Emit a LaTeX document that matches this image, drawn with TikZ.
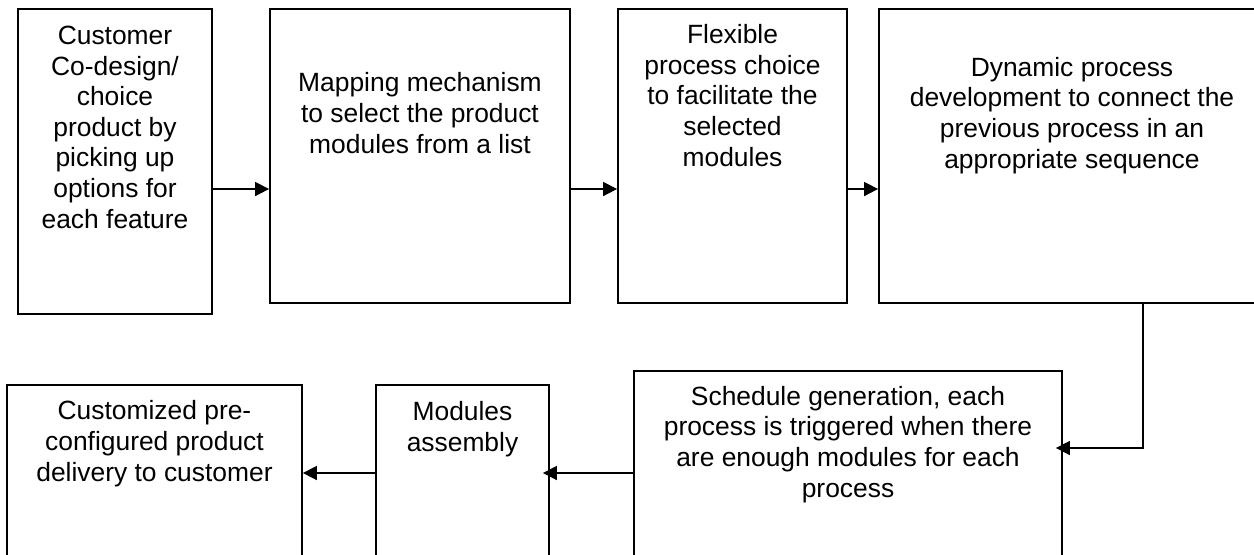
\documentclass[tikz,border=0pt]{standalone}
\usepackage{fontspec}
\setmainfont{Liberation Sans}
\usetikzlibrary{arrows.meta,fit}
\begin{document}
\begin{tikzpicture}[x=0.5pt,y=-0.5pt,
  box/.style={draw, line width=0.9pt, inner sep=0pt},
  txt/.style={align=center, anchor=base, inner sep=0pt, font=\fontsize{13.2}{15.3}\selectfont},
  flow/.style={line width=0.8pt, -{Triangle[length=7pt,width=7pt]}}]
\useasboundingbox (0,0) rectangle (1254,554);
% boxes
\node[box, fit={(18,9) (212,314)}] (b1) {};
\node[box, fit={(270,9) (570,303)}] (b2) {};
\node[box, fit={(618,9) (847,303)}] (b3) {};
\node[box, fit={(879,9) (1265,303)}] (b4) {};
\node[box, fit={(634,371) (1062,580)}] (b7) {};
\node[box, fit={(376,385) (549,580)}] (b6) {};
\node[box, fit={(7,385) (302,580)}] (b5) {};
% texts (anchored at the baseline of their last line)
\node[txt] (t1) at (115,228) {Customer\\Co-design/\\choice\\product by\\picking up\\options for\\each feature};
\node[txt] (t2) at (420,153) {Mapping mechanism\\to select the product\\modules from a list};
\node[txt] (t3) at (732.5,166) {Flexible\\process choice\\to facilitate the\\selected\\modules};
\node[txt] (t4) at (1072,168) {Dynamic process\\development to connect the\\previous process in an\\appropriate sequence};
\node[txt] (t7) at (848,497) {Schedule generation, each\\process is triggered when there\\are enough modules for each\\process};
\node[txt] (t6) at (462.5,451) {Modules\\assembly};
\node[txt] (t5) at (154.5,481) {Customized pre-\\configured product\\delivery to customer};
% connectors
\coordinate (r1) at (0,189);
\coordinate (elbow) at (1143,448);
\coordinate (r2) at (0,473);
\draw[flow] (b1.east |- r1) -- (b2.west |- r1);
\draw[flow] (b2.east |- r1) -- (b3.west |- r1);
\draw[flow] (b3.east |- r1) -- (b4.west |- r1);
\draw[flow, shorten >=-3.5pt] (b4.south -| elbow) -- (elbow) -- (b7.east |- elbow);
\draw[flow, shorten >=-3.5pt] (b7.west |- r2) -- (b6.east |- r2);
\draw[flow] (b6.west |- r2) -- (b5.east |- r2);
\end{tikzpicture}
\end{document}
